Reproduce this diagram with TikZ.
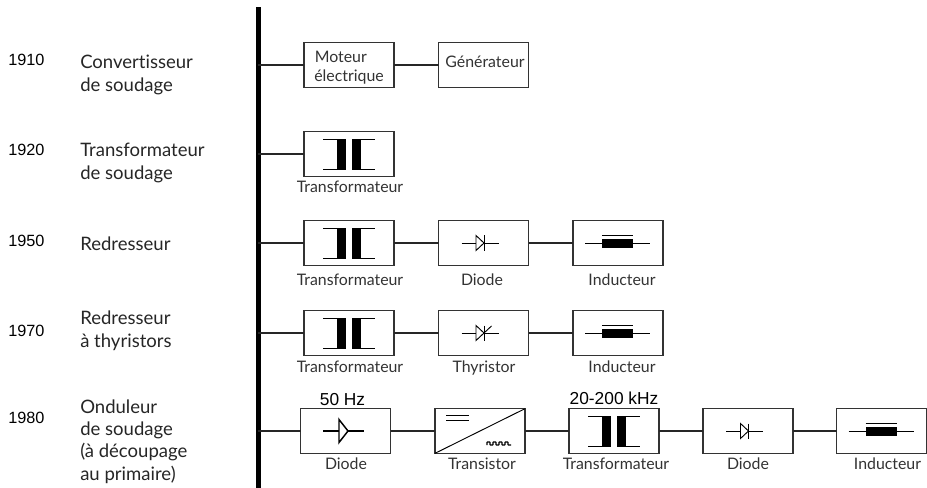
\documentclass[tikz,border=0pt]{standalone}
\usepackage{fontspec}
\setmainfont[Ligatures={NoCommon}]{Lato}
\setsansfont{Liberation Sans}
\tikzset{
 x=0.75pt,y=-0.75pt,
 blockbox/.style={draw=black!80,line width=0.95pt,minimum width=67.5pt,minimum height=33.5pt,inner sep=0pt,outer sep=0pt,fill=white},
 wire/.style={draw=black!85,line width=0.8pt},
 sym/.style={draw=black,line width=0.7pt},
 captext/.style={font=\fontsize{11.9}{13}\selectfont,text=black!80,inner sep=0pt,anchor=base},
 yearlab/.style={font=\sffamily\fontsize{12.2}{14}\selectfont,text=black,inner sep=0pt,anchor=base west},
 titlelab/.style={font=\fontsize{13.9}{16.7}\selectfont,text=black!85,inner sep=0pt,anchor=north west,align=left},
 hzlab/.style={font=\sffamily\fontsize{13}{14}\selectfont,text=black,inner sep=0pt,anchor=base},
}
\newcommand{\xfmr}[1]{%
 \begin{scope}[shift={(#1)}]
  \fill (-12,-15) rectangle (-3,15);
  \fill (3,-15) rectangle (12,15);
  \draw[sym] (-26,-15) -- (-3,-15) (-26,15) -- (-3,15) (3,-15) -- (26,-15) (3,15) -- (26,15);
 \end{scope}}
\newcommand{\diodesm}[1]{%
 \begin{scope}[shift={(#1)}]
  \draw[sym] (-22,0) -- (15,0);
  \draw[sym,fill=white] (-7.5,-7.5) -- (0.5,0) -- (-7.5,7.5) -- cycle;
  \draw[sym] (0.5,-7.5) -- (0.5,7.5);
 \end{scope}}
\newcommand{\thysm}[1]{%
 \begin{scope}[shift={(#1)}]
  \draw[sym] (-22,0) -- (15,0);
  \draw[sym,fill=white] (-7.5,-7.5) -- (0.5,0) -- (-7.5,7.5) -- cycle;
  \draw[sym] (0.5,-7.5) -- (0.5,7.5);
  \draw[sym] (0.5,0) -- (8,-7);
 \end{scope}}
\newcommand{\diodelg}[1]{%
 \begin{scope}[shift={(#1)}]
  \draw[sym,line width=0.9pt] (-22.5,0) -- (18.5,0);
  \draw[sym,fill=white,line width=1.1pt] (-6.5,-11.5) -- (2.5,0) -- (-6.5,11.5) -- cycle;
 \end{scope}}
\newcommand{\indu}[1]{%
 \begin{scope}[shift={(#1)}]
  \draw[sym] (-33,0) -- (32,0);
  \fill (-16,-4) rectangle (15,4.5);
  \draw[sym] (-16,-8) -- (15,-8);
 \end{scope}}
\begin{document}
\begin{tikzpicture}
\useasboundingbox[fill=white] (0,0) rectangle (927,488);
% spine
\fill[black] (255.7,7) rectangle (260.6,488);
\coordinate (s1) at (258,65);
\coordinate (s2) at (258,154);
\coordinate (s3) at (258,243);
\coordinate (s4) at (258,333);
\coordinate (s5) at (258,431);
% row 1
\node[blockbox] (a1) at (349,65) {};
\node[blockbox] (a2) at (483.5,65) {};
% row 2
\node[blockbox] (b1) at (349,154) {};
% row 3
\node[blockbox] (c1) at (349,243) {};
\node[blockbox] (c2) at (483.5,243) {};
\node[blockbox] (c3) at (618,243) {};
% row 4
\node[blockbox] (d1) at (349,333) {};
\node[blockbox] (d2) at (483.5,333) {};
\node[blockbox] (d3) at (618,333) {};
% row 5
\node[blockbox] (e1) at (345.5,431) {};
\node[blockbox] (e2) at (480,431) {};
\node[blockbox] (e3) at (614,431) {};
\node[blockbox] (e4) at (748,431) {};
\node[blockbox] (e5) at (881.5,431) {};
% connectors
\draw[wire] (s1) -- (a1) (a1) -- (a2);
\draw[wire] (s2) -- (b1);
\draw[wire] (s3) -- (c1) (c1) -- (c2) (c2) -- (c3);
\draw[wire] (s4) -- (d1) (d1) -- (d2) (d2) -- (d3);
\draw[wire] (s5) -- (e1) (e1) -- (e2) (e2) -- (e3) (e3) -- (e4) (e4) -- (e5);
% symbols
\xfmr{349,154}
\xfmr{349,243}
\xfmr{349,333}
\xfmr{614,431}
\diodesm{483.5,243}
\thysm{483.5,333}
\indu{618,243}
\indu{618,333}
\diodelg{345.5,431}
\diodesm{748,431}
\indu{881.5,431}
% converter
\draw[sym] (e2.south west) -- (e2.north east);
\draw[sym] (446,415.7) -- (469,415.7) (446,420) -- (469,420);
\draw[line width=0.9pt,rounded corners=0.4pt] (487,445) -- (487,442) -- (490,442) -- (490,445) -- (493,445) -- (493,442) -- (496,442) -- (496,445) -- (499,445) -- (499,442) -- (502,442) -- (502,445) -- (505,445) -- (505,442) -- (508,442) -- (508,445) -- (511,445);
% inner texts
\node[captext,anchor=base west] (t1) at (314.5,63) {Moteur};
\node[captext,anchor=base west] (t2) at (314,82) {électrique};
\node[captext] (t3) at (485,68) {Générateur};
% captions
\node[captext] (l1) at (350,193) {Transformateur};
\node[captext] (l2) at (350,285.5) {Transformateur};
\node[captext] (l3) at (482,285.5) {Diode};
\node[captext] (l4) at (622,285.5) {Inducteur};
\node[captext] (l5) at (350,372) {Transformateur};
\node[captext] (l6) at (484,372) {Thyristor};
\node[captext] (l7) at (622,372) {Inducteur};
\node[captext] (l8) at (346,469.5) {Diode};
\node[captext] (l9) at (482,469.5) {Transistor};
\node[captext] (l10) at (616,469.5) {Transformateur};
\node[captext] (l11) at (748,469.5) {Diode};
\node[captext] (l12) at (887.5,469.5) {Inducteur};
\node[hzlab] (h1) at (342.5,405) {50 Hz};
\node[hzlab] (h2) at (614,404) {20-200 kHz};
% years
\node[yearlab] (y1) at (8,66) {1910};
\node[yearlab] (y2) at (8,156) {1920};
\node[yearlab] (y3) at (8,247) {1950};
\node[yearlab] (y4) at (8,336) {1970};
\node[yearlab] (y5) at (8,423) {1980};
% titles
\node[titlelab] (n1) at (80,55) {Convertisseur\\de soudage};
\node[titlelab] (n2) at (80,143) {Transformateur\\de soudage};
\node[titlelab] (n3) at (80,237) {Redresseur};
\node[titlelab] (n4) at (80,311) {Redresseur\\à thyristors};
\node[titlelab] (n5) at (80,399.5) {Onduleur\\de soudage\\(à découpage\\au primaire)};
\end{tikzpicture}
\end{document}
